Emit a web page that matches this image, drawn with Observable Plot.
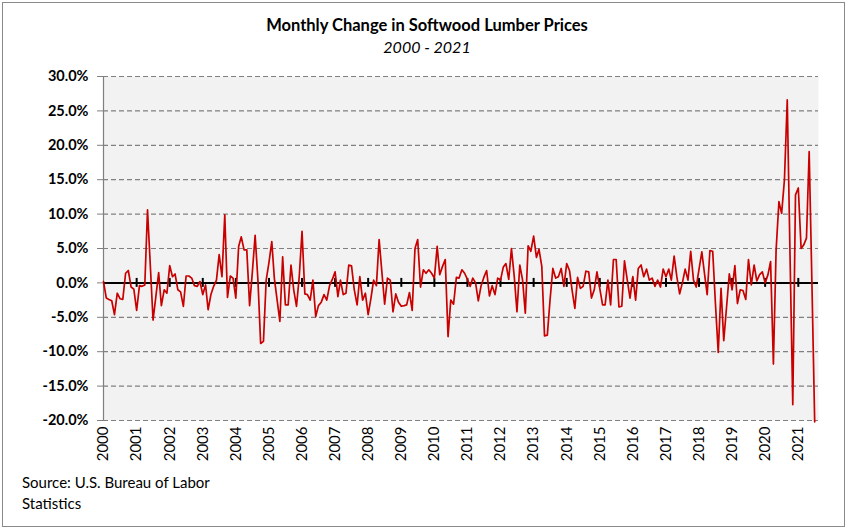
<!DOCTYPE html>
<html>
<head>
<meta charset="utf-8">
<script src="https://cdn.jsdelivr.net/npm/d3@7"></script>
<script src="https://cdn.jsdelivr.net/npm/@observablehq/plot@0.6"></script>
<style>
  body { margin: 0; background: #fff; }
  #wrap { position: relative; width: 850px; height: 531px; font-family: Lato, "Open Sans", sans-serif; overflow: hidden; color: #000; }
  #border { position: absolute; left: 2px; top: 2px; width: 843px; height: 525px; border: 1.5px solid #8a8a8a; box-sizing: border-box; }
  #title { position: absolute; left: 0; width: 854px; top: 15px; text-align: center; font-weight: bold; font-size: 16.5px; }
  #subtitle { position: absolute; left: 0; width: 854px; top: 37px; text-align: center; font-style: italic; font-size: 16px; }
  #chart { position: absolute; left: 0; top: 66px; }
  #caption { position: absolute; left: 22px; top: 472px; font-size: 15px; line-height: 21px; }
</style>
</head>
<body>
<div id="wrap">
  <div id="border"></div>
  <div id="title">Monthly Change in Softwood Lumber Prices</div>
  <div id="subtitle">2000 - 2021</div>
  <div id="chart"></div>
  <div id="caption">Source: U.S. Bureau of Labor<br>Statistics</div>
</div>
<script>
// Monthly % change, starting January 2000 (one row per year)
const startYear = 2000;
const monthlyChange = [
  0.2, -2.2, -2.4, -2.6, -4.6, -1.5, -2.3, -2.4, 1.4, 1.8, -0.6, -0.9,   // 2000
  -4.0, -0.4, -0.5, -0.3, 10.6, 2.5, -5.4, -2.0, 1.5, -3.3, -1.0, -1.5,  // 2001
  2.5, 0.9, 1.3, -1.0, -1.3, -3.4, 1.0, 1.0, 0.7, -0.4, -0.5, 0.2,       // 2002
  -1.7, -0.3, -3.9, -1.7, -0.5, 0.4, 4.1, 0.9, 9.9, -2.1, 1.0, 0.7,      // 2003
  -2.2, 5.3, 6.7, 4.8, 4.8, -3.3, 1.5, 6.9, 0.4, -8.8, -8.5, 0.4,        // 2004
  3.0, 6.0, 0.7, -2.5, -5.6, 3.8, -3.2, -3.2, 2.6, -1.0, -3.4, 0.9,      // 2005
  7.5, -1.6, -1.7, -2.5, 0.4, -4.9, -3.3, -2.8, -1.7, -2.5, -0.4, 0.5,   // 2006
  1.6, -2.0, 0.4, -1.7, -1.5, 2.6, 2.5, -1.0, -3.2, 0.9, -2.5, -1.5,     // 2007
  -4.6, -2.2, 0.4, -0.4, 6.3, 1.5, -3.1, 0.7, 0.4, -4.2, -1.6, -2.8,     // 2008
  -3.4, -3.3, -3.2, -1.4, -4.0, 5.0, 6.3, -0.6, 1.9, 1.4, 1.9, 1.4,      // 2009
  0.7, 5.3, 1.2, 2.4, 3.4, -7.8, -2.5, -3.1, 0.8, 0.7, 1.9, 1.4,         // 2010
  0.5, -0.5, 0.7, 0.0, -2.6, -0.4, 0.8, 1.8, -1.9, -0.4, -1.7, 0.7,      // 2011
  0.4, 2.3, 2.8, 0.5, 5.0, 0.9, -4.2, 2.6, 0.4, -4.4, 5.4, 4.6,          // 2012
  6.8, 3.7, 4.9, 2.4, -7.7, -7.6, -2.5, 2.1, 0.7, 0.9, 2.1, -0.5,        // 2013
  2.8, 1.8, -1.0, -3.7, 0.8, -0.8, -0.5, 1.7, 1.6, -2.2, -1.0, 1.6,      // 2014
  -0.8, -3.2, -3.2, 0.4, -3.2, 3.4, 3.4, -3.5, -3.4, 3.2, 0.4, -2.2,     // 2015
  0.9, -2.5, 2.1, 2.6, 0.9, 2.0, 0.4, 0.7, -0.5, 0.4, -0.6, 2.0,         // 2016
  0.9, 2.0, 0.4, 3.9, 0.9, -1.6, 0.0, 2.0, 0.4, 4.6, 0.4, -0.6,          // 2017
  2.0, 4.5, 1.5, -1.7, 4.7, 4.6, -3.0, -10.1, -0.8, -8.4, -3.5, 1.3,     // 2018
  -1.0, 2.5, -3.0, -1.0, -1.1, -2.4, 3.4, -0.3, 2.6, 0.3, 1.2, 1.6,      // 2019
  0.0, 1.2, 3.1, -11.8, 4.8, 11.8, 10.1, 15.0, 26.6, 4.5, -17.7, 12.8,   // 2020
  13.8, 5.0, 5.5, 6.5, 19.1, -0.5, -20.2                                 // 2021
];
const yTicks = [-20, -15, -10, -5, 0, 5, 10, 15, 20, 25, 30];
const yearLabels = d3.range(2000, 2022);

const data = monthlyChange.map((v, i) => ({date: new Date(Date.UTC(startYear, i, 1)), value: v}));
const yearDates = yearLabels.map(y => new Date(Date.UTC(y, 0, 1)));
const xStart = new Date(Date.UTC(2000, 0, 1));
const xEnd = new Date(Date.UTC(2021, 7, 12));

const chart = Plot.plot({
  width: 850,
  height: 404,
  marginTop: 10,
  marginBottom: 50,
  marginLeft: 103,
  marginRight: 32,
  style: {fontFamily: "Lato, 'Open Sans', sans-serif", fontSize: "14px", background: "transparent", color: "#000", overflow: "visible"},
  x: {type: "utc", domain: [xStart, xEnd]},
  y: {domain: [-20, 30]},
  marks: [
    Plot.frame({fill: "#f2f2f2", stroke: "none"}),
    Plot.ruleY(yTicks.filter(d => d !== 0), {stroke: "#808080", strokeWidth: 1.2, strokeDasharray: "5,3"}),
    Plot.ruleX([xStart], {stroke: "#7f7f7f", strokeWidth: 1.2}),
    Plot.axisY({ticks: yTicks, tickFormat: d => d.toFixed(1) + "%", tickSize: 6, tickPadding: 9,
      stroke: "#7f7f7f", fill: "#000", fontWeight: "bold", fontSize: 14.5, label: null}),
    Plot.axisX({ticks: yearDates, tickFormat: d => String(d.getUTCFullYear()), tickRotate: -90,
      tickSize: 0, tickPadding: 6, fontSize: 15, fill: "#000", label: null}),
    Plot.ruleY([0], {stroke: "#000", strokeWidth: 2}),
    Plot.ruleX(yearDates.slice(1), {y1: -0.65, y2: 0.65, stroke: "#000", strokeWidth: 2}),
    Plot.lineY(data, {x: "date", y: "value", stroke: "#c80000", strokeWidth: 1.7})
  ]
});
document.getElementById("chart").appendChild(chart);
</script>
</body>
</html>
